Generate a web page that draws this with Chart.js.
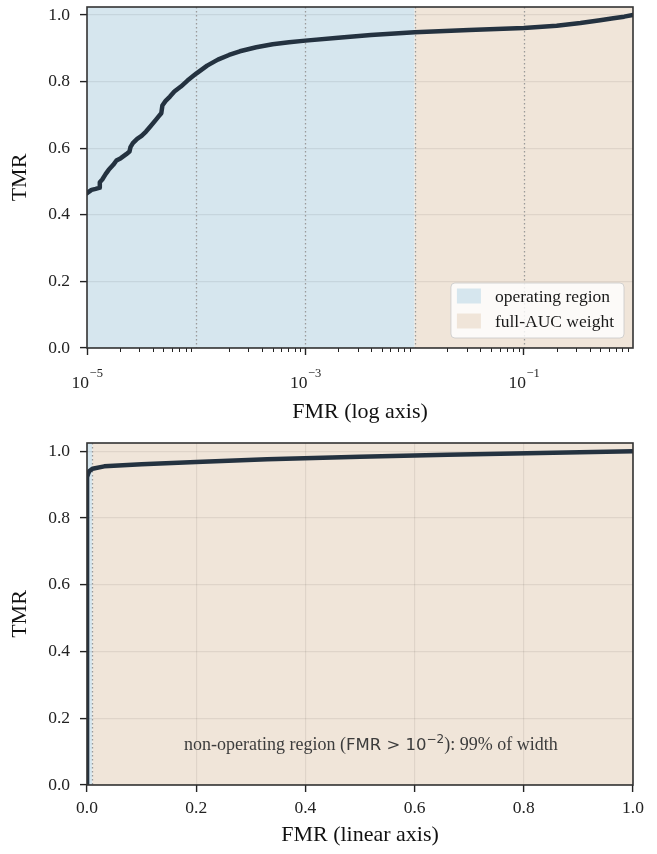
<!DOCTYPE html>
<html>
<head>
<meta charset="utf-8">
<script src="https://cdn.jsdelivr.net/npm/chart.js@4.4.0/dist/chart.umd.min.js"></script>
<style>
  html, body { margin: 0; padding: 0; background: #fff; }
  .panel { width: 657px; height: 427px; }
</style>
</head>
<body>
<div class="panel"><canvas id="logChart" width="657" height="427"></canvas></div>
<div class="panel"><canvas id="linChart" width="657" height="427"></canvas></div>
<script>
// ROC curve (FMR -> TMR)
const fmr = [0, 1.00e-5, 1.10e-5, 1.20e-5, 1.29e-5, 1.31e-5, 1.38e-5, 1.48e-5, 1.58e-5, 1.74e-5, 1.86e-5,
  2.04e-5, 2.29e-5, 2.45e-5, 2.50e-5, 2.63e-5, 2.88e-5, 3.16e-5, 3.47e-5, 3.80e-5, 4.27e-5, 4.57e-5,
  4.79e-5, 4.90e-5, 5.25e-5, 5.75e-5, 6.31e-5, 7.24e-5, 8.32e-5, 1.00e-4, 1.26e-4, 1.58e-4, 2.00e-4,
  2.51e-4, 3.55e-4, 5.01e-4, 7.08e-4, 1.00e-3, 2.00e-3, 3.98e-3, 1.00e-2, 3.16e-2, 0.10, 0.20, 0.33,
  0.50, 0.66, 0.83, 1.0];
const tmr = [0, 0.465, 0.475, 0.478, 0.481, 0.498, 0.506, 0.522, 0.535, 0.550, 0.563,
  0.570, 0.582, 0.590, 0.603, 0.615, 0.628, 0.637, 0.650, 0.665, 0.685, 0.697,
  0.705, 0.728, 0.742, 0.755, 0.770, 0.785, 0.803, 0.824, 0.848, 0.866, 0.880,
  0.891, 0.903, 0.912, 0.918, 0.923, 0.932, 0.940, 0.948, 0.955, 0.961, 0.968, 0.976,
  0.984, 0.990, 0.995, 1.0];

const yTicks = [0, 0.2, 0.4, 0.6, 0.8, 1.0];
const linTicks = [0, 0.2, 0.4, 0.6, 0.8, 1.0];
const decades = [1e-5, 1e-4, 1e-3, 1e-2, 1e-1, 1];
const logMajor = [1e-5, 1e-3, 1e-1];
const logExponents = ['−5', '−3', '−1'];
const refLines = [1e-4, 1e-3, 1e-2, 1e-1];
const opLimit = 1e-2;
const regionNames = ['operating region', 'full-AUC weight'];

const BLUE = '#d6e6ee';
const TAN = '#f0e5d9';
const LINE = '#243240';
const SERIF = "'Liberation Serif', 'Times New Roman', serif";

function tickFont(size) { return { family: SERIF, size: size }; }

// log x ticks: every 1..9 x decade
const logTickValues = [];
decades.forEach(d => {
  if (d === 1) { logTickValues.push(1); return; }
  for (let m = 1; m <= 9; m++) logTickValues.push(d * m);
});
const isMajor = v => logMajor.indexOf(v) >= 0;
const isDecade = v => decades.indexOf(v) >= 0;

// backgrounds, dotted lines, frame
const regionsPlugin = {
  id: 'regions',
  beforeDraw(chart, args, opts) {
    const { ctx, chartArea: a, scales: { x } } = chart;
    const split = x.getPixelForValue(opLimit);
    ctx.save();
    ctx.fillStyle = BLUE;
    ctx.fillRect(a.left, a.top, split - a.left, a.bottom - a.top);
    ctx.fillStyle = TAN;
    ctx.fillRect(split, a.top, a.right - split, a.bottom - a.top);
    ctx.restore();
  },
  beforeDatasetsDraw(chart, args, opts) {
    const { ctx, chartArea: a, scales: { x } } = chart;
    ctx.save();
    ctx.strokeStyle = '#9a9a9a';
    ctx.lineWidth = 1.3;
    ctx.setLineDash([1.4, 2.6]);
    opts.lines.forEach(v => {
      const px = Math.round(x.getPixelForValue(v)) + 0.5;
      ctx.beginPath();
      ctx.moveTo(px, a.top);
      ctx.lineTo(px, a.bottom);
      ctx.stroke();
    });
    ctx.restore();
  },
  afterDraw(chart, args, opts) {
    const { ctx, chartArea: a, scales: { x } } = chart;
    ctx.save();
    if (opts.minor) {
      // minor ticks on the log axis
      ctx.strokeStyle = '#222';
      ctx.lineWidth = 1;
      x.ticks.forEach(t => {
        if (isDecade(t.value)) return;
        const px = Math.round(x.getPixelForValue(t.value)) + 0.5;
        ctx.beginPath();
        ctx.moveTo(px, a.bottom);
        ctx.lineTo(px, a.bottom + 4);
        ctx.stroke();
      });
      // 10^k labels with a raised exponent
      ctx.fillStyle = '#222';
      ctx.textBaseline = 'alphabetic';
      logMajor.forEach((v, i) => {
        ctx.font = '17.5px ' + SERIF;
        const wBase = ctx.measureText('10').width;
        ctx.font = '12.5px ' + SERIF;
        const wExp = ctx.measureText(logExponents[i]).width;
        let px = x.getPixelForValue(v) - (wBase + wExp) / 2;
        const base = a.bottom + 40;
        ctx.font = '17.5px ' + SERIF;
        ctx.fillText('10', px, base);
        ctx.font = '12.5px ' + SERIF;
        ctx.fillText(logExponents[i], px + wBase + 0.5, base - 11);
      });
    }
    ctx.strokeStyle = '#333';
    ctx.lineWidth = 1.6;
    ctx.strokeRect(a.left, a.top, a.right - a.left, a.bottom - a.top);
    ctx.restore();
  }
};

const legendPlugin = {
  id: 'boxLegend',
  afterDatasetsDraw(chart) {
    const { ctx, chartArea: a } = chart;
    ctx.save();
    ctx.font = '17.5px ' + SERIF;
    const textW = Math.max(...regionNames.map(n => ctx.measureText(n).width));
    const w = 6 + 24 + 14 + textW + 10, h = 55;
    const right = a.right - 9, bottom = a.bottom - 10;
    const left = right - w, top = bottom - h;
    ctx.fillStyle = 'rgba(255,255,255,0.8)';
    ctx.strokeStyle = 'rgba(200,200,200,0.8)';
    ctx.lineWidth = 1;
    ctx.beginPath();
    ctx.roundRect(left, top, w, h, 4);
    ctx.fill();
    ctx.stroke();
    [BLUE, TAN].forEach((c, i) => {
      const cy = top + 13 + i * 25;
      ctx.fillStyle = c;
      ctx.fillRect(left + 6, cy - 7.5, 24, 15);
      ctx.fillStyle = '#1a1a1a';
      ctx.textBaseline = 'middle';
      ctx.fillText(regionNames[i], left + 6 + 24 + 14, cy + 1);
    });
    ctx.restore();
  }
};

const notePlugin = {
  id: 'note',
  afterDatasetsDraw(chart) {
    const { ctx, scales: { x, y } } = chart;
    const parts = [
      { t: 'non-operating region (', f: '18px ' + SERIF, dy: 0 },
      { t: 'FMR > 10', f: "16.5px 'DejaVu Sans'", dy: 0 },
      { t: '−2', f: "12px 'DejaVu Sans'", dy: -7 },
      { t: '): 99% of width', f: '18px ' + SERIF, dy: 0 }
    ];
    ctx.save();
    let total = 0;
    parts.forEach(p => { ctx.font = p.f; p.w = ctx.measureText(p.t).width; total += p.w; });
    let px = x.getPixelForValue(0.52) - total / 2;
    const py = y.getPixelForValue(0.105);
    ctx.fillStyle = '#3c3c3c';
    ctx.textBaseline = 'alphabetic';
    parts.forEach(p => { ctx.font = p.f; ctx.fillText(p.t, px, py + p.dy); px += p.w; });
    ctx.restore();
  }
};

function yScale(max) {
  return {
    min: 0, max: max,
    afterBuildTicks: s => { s.ticks = yTicks.map(v => ({ value: v })); },
    afterFit: s => { s.width = 87; s.paddingTop = 0; s.paddingBottom = 0; },
    ticks: { font: tickFont(17.5), color: '#222', padding: 10, callback: v => v.toFixed(1) },
    grid: { color: 'rgba(0,0,0,0.07)', lineWidth: 1.2, tickLength: 7, tickColor: '#222', tickWidth: 1.4 },
    border: { display: false },
    title: { display: true, text: 'TMR', font: tickFont(22), color: '#111', padding: { top: 7 } }
  };
}

const logPoints = fmr.map((v, i) => ({ x: v, y: tmr[i] })).filter(p => p.x > 0);
const linPoints = fmr.map((v, i) => ({ x: v, y: tmr[i] }));

const lineDataset = pts => ({
  data: pts, borderColor: LINE, borderWidth: 4.5, pointRadius: 0, tension: 0,
  borderJoinStyle: 'round', borderCapStyle: 'round'
});

new Chart(document.getElementById('logChart'), {
  type: 'line',
  data: { datasets: [lineDataset(logPoints)] },
  options: {
    responsive: false, animation: false,
    layout: { padding: { top: 7, right: 24, left: 0, bottom: 0 } },
    plugins: {
      legend: { display: false }, tooltip: { enabled: false },
      regions: { lines: refLines, minor: true }
    },
    scales: {
      x: {
        type: 'logarithmic', min: 1e-5, max: 1,
        afterBuildTicks: s => { s.ticks = logTickValues.map(v => ({ value: v })); },
        afterFit: s => { s.height = 79; s.paddingLeft = 0; s.paddingRight = 0; },
        ticks: { autoSkip: false, maxRotation: 0, font: tickFont(17.5), padding: 10, callback: () => '' },
        grid: {
          drawOnChartArea: false, tickLength: 7, tickWidth: 1.4,
          tickColor: c => isMajor(c.tick && c.tick.value) ? '#222' : 'rgba(0,0,0,0)'
        },
        border: { display: false },
        title: { display: true, text: 'FMR (log axis)', font: tickFont(22), color: '#111', padding: { bottom: 2 } }
      },
      y: yScale(1.024)
    }
  },
  plugins: [regionsPlugin, legendPlugin]
});

new Chart(document.getElementById('linChart'), {
  type: 'line',
  data: { datasets: [lineDataset(linPoints)] },
  options: {
    responsive: false, animation: false,
    layout: { padding: { top: 16, right: 24, left: 0, bottom: 0 } },
    plugins: {
      legend: { display: false }, tooltip: { enabled: false },
      regions: { lines: [opLimit], minor: false }
    },
    scales: {
      x: {
        type: 'linear', min: 0, max: 1,
        afterBuildTicks: s => { s.ticks = linTicks.map(v => ({ value: v })); },
        afterFit: s => { s.height = 69; s.paddingLeft = 0; s.paddingRight = 0; },
        ticks: { font: tickFont(17.5), color: '#222', padding: 6, callback: v => v.toFixed(1) },
        grid: { color: 'rgba(0,0,0,0.07)', lineWidth: 1.2, tickLength: 7, tickColor: '#222', tickWidth: 1.4 },
        border: { display: false },
        title: { display: true, text: 'FMR (linear axis)', font: tickFont(22), color: '#111', padding: { bottom: 6 } }
      },
      y: yScale(1.025)
    }
  },
  plugins: [regionsPlugin, notePlugin]
});
</script>
</body>
</html>
